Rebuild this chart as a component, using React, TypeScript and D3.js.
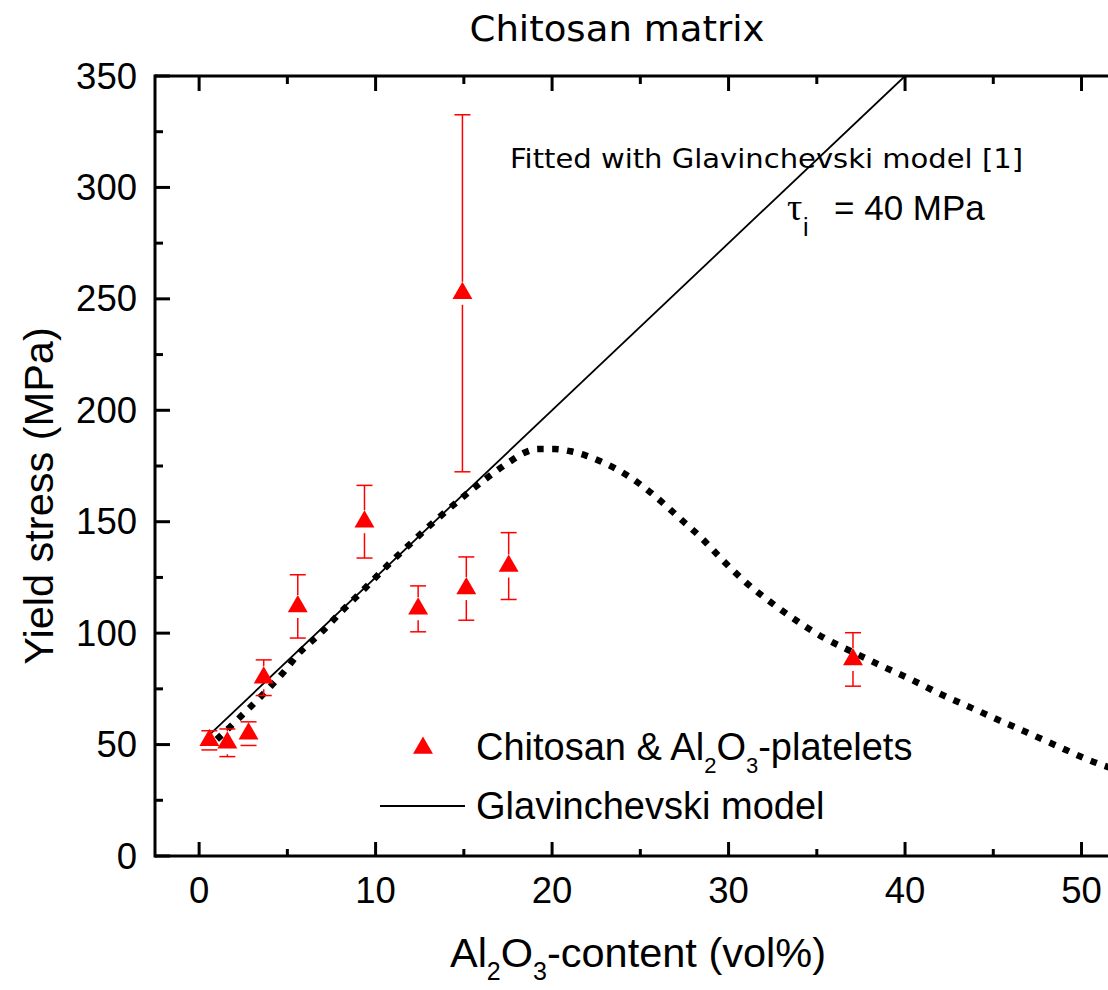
import React from 'react';
import * as d3 from 'd3';

// Measured data: Chitosan & Al2O3-platelets
const pointX = [0.58, 1.6, 2.8, 3.66, 5.59, 9.37, 12.41, 14.92, 15.14, 17.54, 37.05];
const pointY = [51.9, 50.8, 54.9, 80, 112, 150, 110.9, 252.5, 120, 130.1, 88.2];
const pointErr = [4.3, 6.2, 5.3, 8, 14.2, 16.3, 10.3, 80.1, 14.2, 15, 12];

// Glavinchevski model (tau_i = 40 MPa), straight line
const modelX = [0.4, 40];
const modelY = [53, 350];

// Dotted curve
const curveX = [1.0, 1.15, 2.5, 3.75, 4.94, 5.57, 6.87, 8.1, 9.42, 10.69, 12.01, 13.33, 14.71, 16.12, 17.58, 18.39, 19.21, 20.13, 21.04, 21.89, 22.74, 24.34, 25.8, 27.14, 28.5, 29.76, 31.05, 32.47, 33.92, 35.45, 37.09, 38.75, 40.4, 42.0, 43.7, 45.3, 46.95, 48.61, 50.31, 52.0];
const curveY = [52.3, 53.4, 63.7, 73.6, 83.9, 90.2, 99.9, 110.0, 120.3, 130.5, 140.4, 150.1, 159.5, 168.5, 176.8, 180.8, 182.6, 182.6, 181.6, 179.8, 177.1, 170.4, 161.7, 152.2, 142.4, 132.0, 122.3, 113.4, 105.2, 97.7, 91.3, 85.0, 79.0, 72.7, 66.7, 61.0, 55.3, 49.4, 43.4, 38.6];

const xMajor = [0, 10, 20, 30, 40, 50];
const xMinor = [5, 15, 25, 35, 45];
const yMajor = [0, 50, 100, 150, 200, 250, 300, 350];
const yMinor = [25, 75, 125, 175, 225, 275, 325];

const W = 1108;
const H = 990;
const L = 155;
const R = 1108;
const T = 76;
const B = 856;

const ARIAL = 'Liberation Sans, Arial, sans-serif';
const GEO = 'DejaVu Sans, sans-serif';

function triPath(r: number) {
  const s = r * Math.sqrt(3) / 2;
  return `M0,${-r}L${s},${r / 2}L${-s},${r / 2}Z`;
}

export default function App() {
  const x = d3.scaleLinear().domain([-2.5, 51.5]).range([L, R]);
  const y = d3.scaleLinear().domain([0, 350]).range([B, T]);

  const modelLine = d3.line<number>()
    .x((_, i) => x(modelX[i]))
    .y((_, i) => y(modelY[i]))(modelX) || '';

  const curveLine = d3.line<number>()
    .x((_, i) => x(curveX[i]))
    .y((_, i) => y(curveY[i]))
    .curve(d3.curveMonotoneX)(curveX) || '';

  const r = 11.5;
  const tri = triPath(r);
  const capW = 8;

  return (
    <svg width={W} height={H} style={{ position: 'absolute', left: 0, top: 0, background: '#fff' }}>
      <defs>
        <clipPath id="plot">
          <rect x={L} y={T} width={R - L} height={B - T} />
        </clipPath>
      </defs>
      <rect x={0} y={0} width={W} height={H} fill="#fff" />

      {/* Title */}
      <text x={617} y={41} textAnchor="middle" fontFamily={GEO} fontSize={35} textLength={295} lengthAdjust="spacingAndGlyphs" fill="#000">Chitosan matrix</text>

      {/* curves */}
      <g clipPath="url(#plot)">
        <path d={modelLine} fill="none" stroke="#000" strokeWidth={1.8} />
        <path d={curveLine} fill="none" stroke="#000" strokeWidth={6.5} strokeDasharray="6.5,8.5" />
      </g>

      {/* error bars and points */}
      <g>
        {pointX.map((px, i) => {
          const cx = x(px);
          const cy = y(pointY[i]);
          const yHi = y(pointY[i] + pointErr[i]);
          const yLo = y(pointY[i] - pointErr[i]);
          return (
            <g key={i}>
              {yHi < cy - r && <line x1={cx} x2={cx} y1={yHi} y2={cy - r} stroke="#ff0000" strokeWidth={1.5} />}
              {yLo > cy + r && <line x1={cx} x2={cx} y1={cy + r} y2={yLo} stroke="#ff0000" strokeWidth={1.5} />}
              <line x1={cx - capW} x2={cx + capW} y1={yHi} y2={yHi} stroke="#ff0000" strokeWidth={1.5} />
              <line x1={cx - capW} x2={cx + capW} y1={yLo} y2={yLo} stroke="#ff0000" strokeWidth={1.5} />
              <path d={tri} transform={`translate(${cx},${cy})`} fill="#ff0000" />
            </g>
          );
        })}
      </g>

      {/* axes */}
      <g stroke="#000" strokeWidth={3}>
        <line x1={L} x2={R} y1={B} y2={B} />
        <line x1={L} x2={R} y1={T} y2={T} />
        <line x1={L} x2={L} y1={T - 1.5} y2={B + 1.5} />
        {xMajor.map(v => (
          <g key={'xM' + v}>
            <line x1={x(v)} x2={x(v)} y1={B} y2={B - 14} />
            <line x1={x(v)} x2={x(v)} y1={T} y2={T + 15} />
          </g>
        ))}
        {xMinor.map(v => (
          <g key={'xm' + v}>
            <line x1={x(v)} x2={x(v)} y1={B} y2={B - 7} />
            <line x1={x(v)} x2={x(v)} y1={T} y2={T + 8} />
          </g>
        ))}
        {yMajor.map(v => (
          <line key={'yM' + v} x1={L} x2={L + 15} y1={y(v)} y2={y(v)} />
        ))}
        {yMinor.map(v => (
          <line key={'ym' + v} x1={L} x2={L + 8} y1={y(v)} y2={y(v)} />
        ))}
      </g>

      {/* tick labels */}
      <g fontFamily={ARIAL} fontSize={36.5} fill="#000">
        {xMajor.map(v => (
          <text key={'xl' + v} x={x(v)} y={903} textAnchor="middle">{v}</text>
        ))}
        {yMajor.map(v => (
          <text key={'yl' + v} x={137} y={y(v) + 12.5} textAnchor="end">{v}</text>
        ))}
      </g>

      {/* axis titles */}
      <text x={638} y={967} textAnchor="middle" fontFamily={ARIAL} fontSize={41.5} fill="#000">
        Al<tspan fontSize={25} dy={13}>2</tspan><tspan dy={-13}>O</tspan><tspan fontSize={25} dy={13}>3</tspan><tspan dy={-13}>-content (vol%)</tspan>
      </text>
      <text transform="translate(53,496) rotate(-90)" textAnchor="middle" fontFamily={ARIAL} fontSize={41.5} fill="#000">Yield stress (MPa)</text>

      {/* annotations */}
      <text x={510} y={168} fontFamily={GEO} fontSize={27} textLength={513} lengthAdjust="spacingAndGlyphs" fill="#000">Fitted with Glavinchevski model [1]</text>
      <text x={787} y={220} fontFamily="Liberation Serif, serif" fontSize={38} fill="#000">τ</text>
      <text x={803} y={236} fontFamily={ARIAL} fontSize={25} fill="#000">i</text>
      <text x={834} y={220} fontFamily={ARIAL} fontSize={35} fill="#000">= 40 MPa</text>

      {/* legend */}
      <path d={tri} transform={`translate(423,748)`} fill="#ff0000" />
      <text x={476} y={760} fontFamily={ARIAL} fontSize={38} fill="#000">
        Chitosan &amp; Al<tspan fontSize={22} dy={13}>2</tspan><tspan dy={-13}>O</tspan><tspan fontSize={22} dy={13}>3</tspan><tspan dy={-13}>-platelets</tspan>
      </text>
      <line x1={380} x2={465} y1={806} y2={806} stroke="#000" strokeWidth={1.8} />
      <text x={476} y={819} fontFamily={ARIAL} fontSize={38} fill="#000">Glavinchevski model</text>
    </svg>
  );
}
